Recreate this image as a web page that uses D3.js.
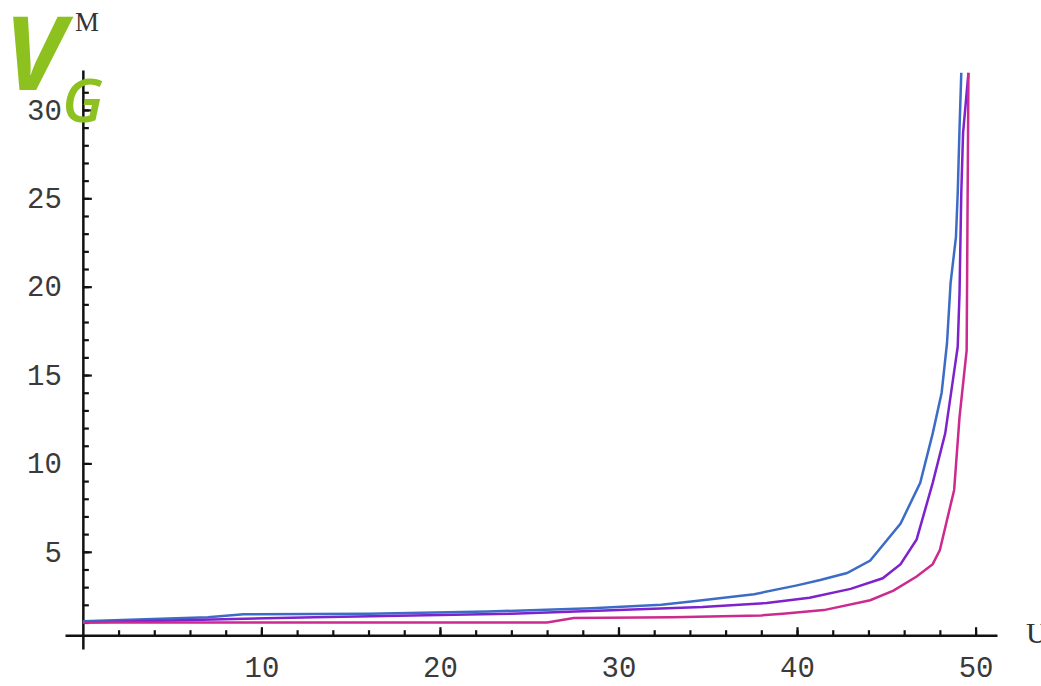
<!DOCTYPE html>
<html>
<head>
<meta charset="utf-8">
<script src="https://cdn.jsdelivr.net/npm/d3@7"></script>
<style>
	body { margin:0; background:#fff; }
	.tick text { font-family:"Liberation Mono", "DejaVu Sans Mono", monospace; fill:#3a3a3a; }
	.domain, .tick line { stroke:#111; }
</style>
</head>
<body>
<div class="chart"></div>
<script>
// curve values (U along x, M up y)
var blueU = [0, 7, 9, 16, 22.7, 28.5, 32.4, 34.2, 37.6, 40, 41.3, 42.8, 44.1, 45.8, 46.9, 47.6, 48.1, 48.4, 48.6, 48.9, 49.0, 49.1, 49.2];
var blueM = [1.07, 1.3, 1.47, 1.5, 1.62, 1.8, 2.0, 2.2, 2.6, 3.1, 3.4, 3.8, 4.5, 6.6, 8.9, 11.7, 14, 16.8, 20.2, 22.8, 25.3, 28.9, 32.1];

var purpleU = [0, 13, 24, 30, 34.7, 38.3, 40.7, 43, 44.8, 45.8, 46.7, 47.6, 48.3, 48.7, 49.0, 49.1, 49.2, 49.3, 49.6];
var purpleM = [1.0, 1.3, 1.5, 1.7, 1.87, 2.1, 2.4, 2.9, 3.5, 4.3, 5.7, 8.9, 11.7, 14.5, 16.6, 19.6, 25.3, 28.7, 32.1];

var magentaU = [0, 26, 27.5, 33, 38, 39.2, 41.5, 44.1, 45.4, 46.7, 47.6, 48.0, 48.8, 49.1, 49.5, 49.6];
var magentaM = [1.0, 1.0, 1.25, 1.3, 1.4, 1.5, 1.7, 2.26, 2.8, 3.6, 4.3, 5.1, 8.5, 12.6, 16.4, 32.1];

var xTicks = [10, 20, 30, 40, 50];
var yTicks = [5, 10, 15, 20, 25, 30];

var w = 1041, h = 686;

var svg = d3.select(".chart")
	.append("svg")
	.attr("width", w)
	.attr("height", h);

// scales - axis lines run a bit past origin like the mathematica plot
var x = d3.scaleLinear().domain([-1, 51.2]).range([65, 997]);
var y = d3.scaleLinear().domain([-0.5, 32.26]).range([649, 70]);

var xAxisY = y(0.28),
	yAxisX = x(0);

// minor ticks first
svg.append("g")
	.attr("transform", "translate(0," + xAxisY + ")")
	.call(d3.axisBottom(x).tickValues(d3.range(2, 51, 2)).tickSize(-5).tickSizeOuter(0).tickFormat(""))
	.call(function(g){ g.select(".domain").remove(); })
	.selectAll("line").attr("stroke-width", 2.2);

svg.append("g")
	.attr("transform", "translate(" + yAxisX + ",0)")
	.call(d3.axisLeft(y).tickValues(d3.range(1, 32, 1)).tickSize(-6).tickSizeOuter(0).tickFormat(""))
	.call(function(g){ g.select(".domain").remove(); })
	.selectAll("line").attr("stroke-width", 2.2);

// major ticks + labels
var xAxis = svg.append("g")
	.attr("transform", "translate(0," + xAxisY + ")")
	.call(d3.axisBottom(x).tickValues(xTicks).tickSize(-8).tickSizeOuter(0).tickPadding(21));
xAxis.select(".domain").attr("stroke-width", 2.5);
xAxis.selectAll("line").attr("stroke-width", 2.2);
xAxis.selectAll("text").attr("font-size", 29);

var yAxis = svg.append("g")
	.attr("transform", "translate(" + yAxisX + ",0)")
	.call(d3.axisLeft(y).tickValues(yTicks).tickSize(-9).tickSizeOuter(0).tickPadding(21));
yAxis.select(".domain").attr("stroke-width", 2.5);
yAxis.selectAll("line").attr("stroke-width", 2.2);
yAxis.selectAll("text").attr("font-size", 29);

// axis names
svg.append("text")
	.attr("x", 87).attr("y", 31)
	.attr("text-anchor", "middle")
	.style("font-family", "Liberation Serif, serif")
	.style("font-size", "27px")
	.style("fill", "#333")
	.text("M");

svg.append("text")
	.attr("x", 1026).attr("y", 643)
	.style("font-family", "Liberation Serif, serif")
	.style("font-size", "30px")
	.style("fill", "#333")
	.text("U");

// curves
var line = d3.line()
	.x(function(d){ return x(d[0]); })
	.y(function(d){ return y(d[1]); });

var curves = [
	{ u: blueU, m: blueM, color: "#3d6cc6" },
	{ u: purpleU, m: purpleM, color: "#7e22cc" },
	{ u: magentaU, m: magentaM, color: "#cc2a8e" }
];

svg.selectAll(".curve")
	.data(curves)
	.enter()
	.append("path")
	.attr("class", "curve")
	.attr("fill", "none")
	.attr("stroke", function(d){ return d.color; })
	.attr("stroke-width", 2.5)
	.attr("d", function(d){
		return line(d.u.map(function(v, i){ return [v, d.m[i]]; }));
	});

// green V_G overlay
svg.append("text")
	.attr("x", 4).attr("y", 90)
	.style("font-family", "Open Sans, sans-serif")
	.style("font-weight", "bold")
	.style("font-style", "italic")
	.style("font-size", "102px")
	.style("fill", "#8cc11f")
	.text("V");

svg.append("text")
	.attr("x", 62).attr("y", 122)
	.style("font-family", "Open Sans, sans-serif")
	.style("font-weight", "600")
	.style("font-style", "italic")
	.style("font-size", "60px")
	.style("fill", "#8cc11f")
	.text("G");
</script>
</body>
</html>
